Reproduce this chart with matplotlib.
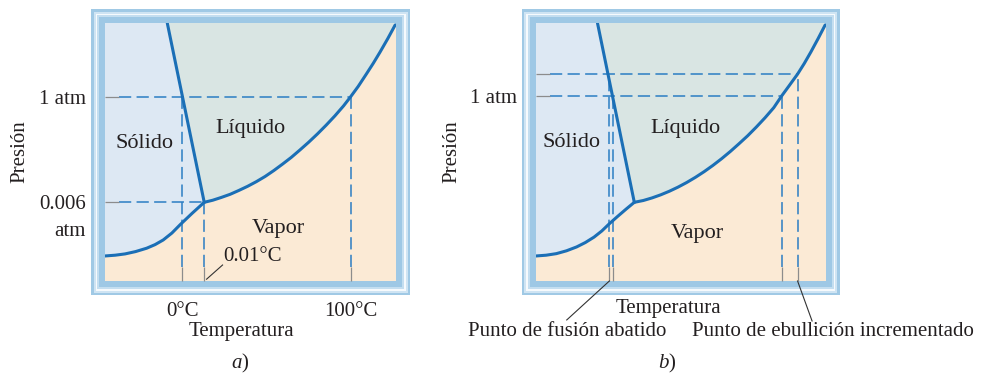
import matplotlib.pyplot as plt
from matplotlib.patches import Rectangle

plt.rcParams['font.family'] = ['Liberation Serif', 'DejaVu Serif']
plt.rcParams['mathtext.fontset'] = 'custom'
plt.rcParams['mathtext.it'] = 'Liberation Serif:italic'
plt.rcParams['mathtext.rm'] = 'Liberation Serif'

# schematic units: temperature 0-100 across the box, pressure 0-100 up the box
# --- panel a) pure water ---
a_sl_t = [21.4, 34.1]
a_sl_p = [100.0, 30.5]
a_lv_t = [34.1, 37.0, 40.0, 43.0, 46.0, 49.0, 52.0, 55.0, 58.0, 61.0, 64.0, 67.0,
          70.0, 73.0, 76.0, 79.0, 82.0, 84.4, 87.0, 89.8, 92.2, 94.5, 97.2, 99.7]
a_lv_p = [30.5, 31.3, 32.4, 33.6, 35.1, 36.7, 38.5, 40.5, 42.8, 45.3, 47.9, 50.8,
          53.8, 57.0, 60.4, 64.0, 67.9, 71.4, 75.4, 80.2, 84.4, 88.7, 94.0, 99.2]
a_sv_t = [0.0, 3.5, 6.9, 10.5, 14.3, 17.2, 20.0, 23.0, 25.8, 29.9, 34.1]
a_sv_p = [9.7, 10.0, 10.5, 11.4, 12.7, 14.1, 15.9, 18.6, 21.8, 26.2, 30.5]
a_p_ticks = [30.5, 71.4]
a_p_labels = ['0.006', '1 atm']
a_t_ticks = [26.6, 34.1, 84.4]
a_t_labels = ['0°C', '', '100°C']
a_hlines = [(71.4, 84.4), (30.5, 34.1)]          # (pressure, end temperature)
a_vlines = [(26.6, 71.4), (34.1, 30.5), (84.4, 71.4)]  # (temperature, top pressure)

# --- panel b) solution ---
b_sl_t = [21.2, 33.9]
b_sl_p = [100.0, 30.5]
b_lv_t = [33.9, 37.0, 40.0, 43.0, 46.0, 49.0, 52.0, 55.0, 58.0, 61.0, 64.0, 67.0,
          70.0, 73.0, 76.0, 79.0, 82.0, 84.7, 87.3, 90.2, 92.5, 94.8, 97.3, 99.7]
b_lv_p = [30.5, 31.2, 32.2, 33.4, 34.8, 36.4, 38.2, 40.2, 42.4, 44.8, 47.4, 50.2,
          53.2, 56.3, 59.7, 63.3, 67.2, 71.7, 75.7, 80.2, 84.3, 88.8, 94.0, 99.2]
b_sv_t = [0.0, 3.5, 7.0, 10.5, 14.0, 17.0, 20.0, 22.7, 25.2, 28.0, 31.0, 33.9]
b_sv_p = [9.7, 10.0, 10.6, 11.7, 13.2, 14.9, 17.0, 19.4, 22.1, 24.9, 27.8, 30.5]
b_p_ticks = [71.7, 80.2]
b_p_labels = ['1 atm', '']
b_t_ticks = [25.3, 26.7, 84.7, 90.2]
b_hlines = [(80.2, 90.2), (71.7, 84.7)]
b_vlines = [(25.3, 80.2), (26.7, 71.7), (84.7, 71.7), (90.2, 80.2)]

C_SOLID = '#dde8f3'
C_LIQ = '#d9e5e3'
C_VAP = '#fbead5'
C_LINE = '#1b6fb6'
C_DASH = '#2b7dc3'
C_TEXT = '#231f20'
C_TICK = '#8c8c8c'

fig = plt.figure(figsize=(10.03, 3.73), dpi=100)
ax_a = fig.add_axes([105 / 1003, 92 / 373, 291 / 1003, 258 / 373])
ax_b = fig.add_axes([536 / 1003, 92 / 373, 290 / 1003, 258 / 373])


def draw_frame(ax, w_px, h_px):
    layers = [(14, '#a0c9e5'), (11.5, '#cfe4f3'), (9.5, '#f6fafd'),
              (8, '#c4def0'), (6, '#9ec8e5')]
    for i, (p, c) in enumerate(layers):
        dx, dy = p / w_px, p / h_px
        ax.add_patch(Rectangle((-dx, -dy), 1 + 2 * dx, 1 + 2 * dy,
                               transform=ax.transAxes, facecolor=c,
                               edgecolor='none', clip_on=False, zorder=-10 + i))


def draw_panel(ax, w_px, sl_t, sl_p, lv_t, lv_p, sv_t, sv_p, hlines, vlines):
    ax.set_xlim(0, 100)
    ax.set_ylim(0, 100)
    ax.set_facecolor('none')
    for s in ax.spines.values():
        s.set_visible(False)
    draw_frame(ax, w_px, 258)

    # phase regions
    ax.fill([0] + sl_t + sv_t[::-1], [100] + sl_p + sv_p[::-1],
            color=C_SOLID, lw=0, zorder=0)
    ax.fill(sl_t + lv_t[1:] + [lv_t[-1]], sl_p + lv_p[1:] + [100],
            color=C_LIQ, lw=0, zorder=0)
    ax.fill([0] + sv_t + lv_t[1:] + [100, 100], [0] + sv_p + lv_p[1:] + [lv_p[-1], 0],
            color=C_VAP, lw=0, zorder=0)

    # guide lines
    gx = 14 / w_px * 100
    gy = 14 / 258 * 100
    for p, t in hlines:
        ax.plot([gx, t], [p, p], color=C_DASH, lw=1.1, dashes=(8, 3.5), zorder=1)
    for t, p in vlines:
        ax.plot([t, t], [gy, p], color=C_DASH, lw=1.1, dashes=(8, 3.5), zorder=1)

    # phase boundaries
    for t, p in [(sl_t, sl_p), (lv_t, lv_p), (sv_t, sv_p)]:
        ax.plot(t, p, color=C_LINE, lw=2.2, solid_capstyle='round',
                solid_joinstyle='round', zorder=3)

    ax.tick_params(direction='in', length=10, width=0.9, color=C_TICK,
                   labelsize=15, labelcolor=C_TEXT)
    ax.tick_params(axis='y', pad=13.5)
    ax.tick_params(axis='x', pad=15)


draw_panel(ax_a, 291, a_sl_t, a_sl_p, a_lv_t, a_lv_p, a_sv_t, a_sv_p, a_hlines, a_vlines)
draw_panel(ax_b, 290, b_sl_t, b_sl_p, b_lv_t, b_lv_p, b_sv_t, b_sv_p, b_hlines, b_vlines)

ax_a.set_yticks(a_p_ticks, a_p_labels)
ax_a.set_xticks(a_t_ticks, a_t_labels)
ax_b.set_yticks(b_p_ticks, b_p_labels)
ax_b.set_xticks(b_t_ticks, [''] * len(b_t_ticks))

txt = dict(color=C_TEXT, ha='center', va='center')

# panel a) texts
ax_a.text(-0.0675, 0.19, 'atm', transform=ax_a.transAxes, fontsize=15,
          color=C_TEXT, ha='right', va='center')
ax_a.text(13.6, 53.4, 'Sólido', fontsize=16, **txt)
ax_a.text(50.1, 59.2, 'Líquido', fontsize=16, **txt)
ax_a.text(59.5, 20.4, 'Vapor', fontsize=16, **txt)
ax_a.text(40.6, 9.4, '0.01°C', fontsize=15, color=C_TEXT, ha='left', va='center')
ax_a.plot([34.9, 40.4], [0.7, 6.2], color='#333333', lw=0.8, zorder=4)
ax_a.text(-0.292, 0.5, 'Presión', transform=ax_a.transAxes, rotation=90,
          fontsize=15, **txt)
ax_a.text(0.47, -0.197, 'Temperatura', transform=ax_a.transAxes, fontsize=15, **txt)
ax_a.text(0.464, -0.318, '$a$)', transform=ax_a.transAxes, fontsize=15, **txt)

# panel b) texts
ax_b.text(12.4, 53.5, 'Sólido', fontsize=16, **txt)
ax_b.text(51.4, 59.3, 'Líquido', fontsize=16, **txt)
ax_b.text(55.6, 18.6, 'Vapor', fontsize=16, **txt)
ax_b.text(-0.29, 0.5, 'Presión', transform=ax_b.transAxes, rotation=90,
          fontsize=15, **txt)
ax_b.text(0.455, -0.105, 'Temperatura', transform=ax_b.transAxes, fontsize=15, **txt)
ax_b.text(0.109, -0.197, 'Punto de fusión abatido', transform=ax_b.transAxes,
          fontsize=15, **txt)
ax_b.text(1.024, -0.197, 'Punto de ebullición incrementado', transform=ax_b.transAxes,
          fontsize=15, **txt)
ax_b.plot([25.3, 10.6], [0, -15.1], color='#333333', lw=0.8, clip_on=False, zorder=4)
ax_b.plot([90.2, 95.2], [0, -15.5], color='#333333', lw=0.8, clip_on=False, zorder=4)
ax_b.text(0.451, -0.318, '$b$)', transform=ax_b.transAxes, fontsize=15, **txt)

fig.savefig('out.png', dpi=100)
